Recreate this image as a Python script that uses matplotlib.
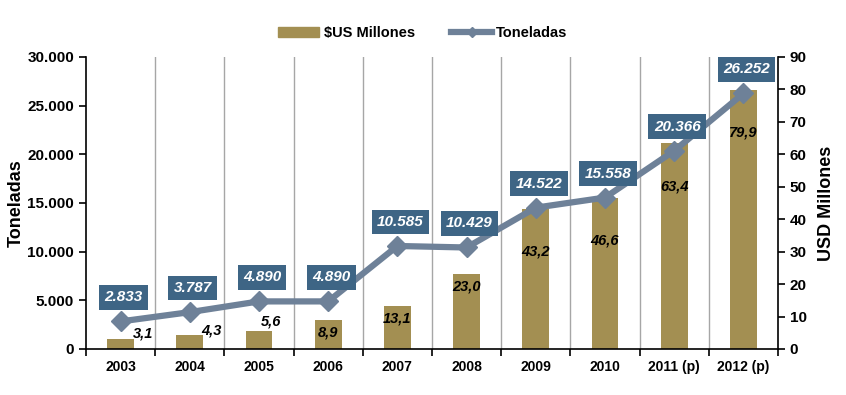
import matplotlib
matplotlib.use("Agg")
import matplotlib.pyplot as plt
import numpy as np
from matplotlib.lines import Line2D
from matplotlib.patches import Patch

years = ["2003", "2004", "2005", "2006", "2007", "2008", "2009", "2010", "2011 (p)", "2012 (p)"]
usd_millones = [3.1, 4.3, 5.6, 8.9, 13.1, 23.0, 43.2, 46.6, 63.4, 79.9]
toneladas = [2833, 3787, 4890, 4890, 10585, 10429, 14522, 15558, 20366, 26252]

BAR_C = "#A38F52"
LINE_C = "#6E8198"
BOX_C = "#3E6585"

plt.rcParams['font.family'] = ['Liberation Sans', 'DejaVu Sans']

fig = plt.figure(figsize=(8.46, 3.95), dpi=100)
ax = fig.add_axes([86/846, 46/395, 692/846, 292/395])
ax2 = ax.twinx()

x = np.arange(len(years))

# bars on right axis
ax2.bar(x, usd_millones, width=0.39, color=BAR_C, zorder=2)
ax2.set_ylim(0, 90)
ax2.set_yticks(range(0, 91, 10))

# line on left axis (draw on top)
ax.set_zorder(ax2.get_zorder() + 1)
ax.patch.set_visible(False)
ax.plot(x, toneladas, color=LINE_C, lw=4.5, marker='D', ms=10, mfc=LINE_C, mec=LINE_C, zorder=5)
ax.set_ylim(0, 30000)
ax.set_yticks(range(0, 30001, 5000))
ax.set_yticklabels([f"{v:,}".replace(",", ".") for v in range(0, 30001, 5000)])
ax.set_xlim(-0.5, len(years) - 0.5)

# vertical gridlines between categories
for b in np.arange(0.5, len(years) - 0.5, 1):
    ax2.axvline(b, color="#A6A6A6", lw=1, zorder=0)

ax.set_xticks(x)
ax.set_xticklabels(years)
ax.set_xticks(np.arange(-0.5, len(years), 1), minor=True)
ax.tick_params(axis='x', which='major', length=0, pad=8)
ax.tick_params(axis='x', which='minor', length=5, direction='out', color='black', width=1.2)
for lab in ax.get_xticklabels():
    lab.set_fontweight('bold'); lab.set_fontsize(10)
ax.tick_params(axis='y', length=5, width=1.2, direction='out', labelsize=11)
for lab in ax.get_yticklabels():
    lab.set_fontweight('bold')
ax2.tick_params(axis='y', length=5, width=1.2, direction='out', labelsize=11)
for lab in ax2.get_yticklabels():
    lab.set_fontweight('bold')

for a in (ax, ax2):
    a.spines['top'].set_visible(False)
ax.spines['left'].set_linewidth(1.2)
ax2.spines['right'].set_linewidth(1.2)
ax.spines['bottom'].set_linewidth(1.2)
ax2.spines['left'].set_visible(False)
ax2.spines['bottom'].set_visible(False)
ax.spines['right'].set_visible(False)

ax.set_ylabel("Toneladas", fontsize=13, fontweight='bold', labelpad=2)
ax2.set_ylabel("USD Millones", fontsize=13, fontweight='bold', labelpad=8)

# line labels (boxes)
for xi, v in zip(x, toneladas):
    ax.annotate(f"{v:,}".replace(",", "."), (xi, v), xytext=(3, 24), textcoords='offset pixels',
                ha='center', va='center', color='white', fontsize=11, fontweight='bold', style='italic',
                bbox=dict(boxstyle='square,pad=0.35', fc=BOX_C, ec='none'), zorder=6)

# bar labels
for xi, v in zip(x, usd_millones):
    s = f"{v:.1f}".replace(".", ",")
    if v < 5:
        ax2.annotate(s, (xi, v), xytext=(22, 5), textcoords='offset pixels', ha='center', va='center',
                     fontsize=10.5, fontweight='bold', style='italic', color='black', zorder=4)
    elif v < 6:
        ax2.annotate(s, (xi, v), xytext=(12, 9), textcoords='offset pixels', ha='center', va='center',
                     fontsize=10.5, fontweight='bold', style='italic', color='black', zorder=4)
    else:
        off = -12 if v < 30 else -43
        ax2.annotate(s, (xi, v), xytext=(0, off), textcoords='offset pixels', ha='center', va='center',
                     fontsize=10.5, fontweight='bold', style='italic', color='black', zorder=4)

handles = [Patch(color=BAR_C, label="$US Millones"),
           Line2D([], [], color=LINE_C, lw=4.5, marker='D', ms=5, label="Toneladas")]
leg = fig.legend(handles=handles, loc='center', bbox_to_anchor=(0.5, 1 - 33/395), ncol=2, frameon=False,
                 prop={'weight': 'bold', 'size': 10.5}, handlelength=2.8, columnspacing=2.5, handletextpad=0.3)

fig.savefig("out.png", dpi=100)
